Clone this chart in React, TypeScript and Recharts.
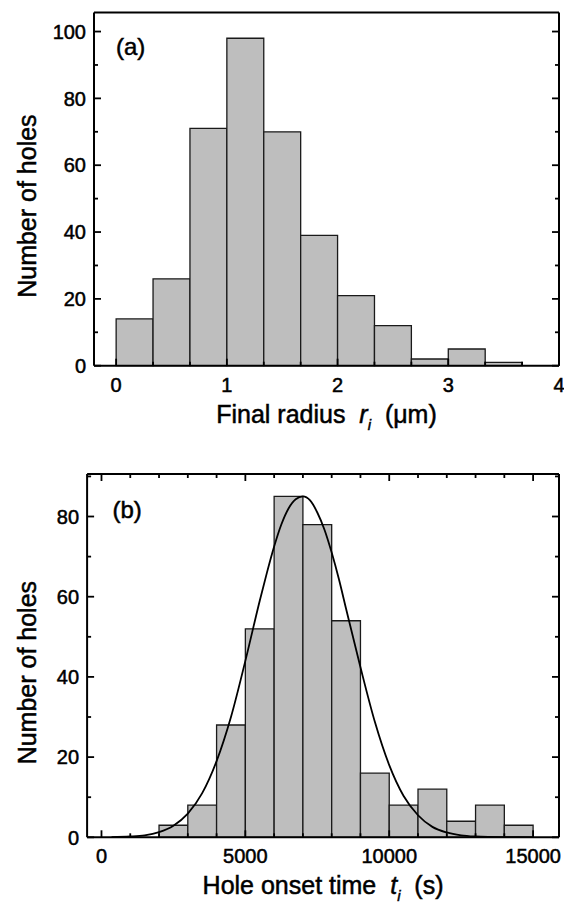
import { ComposedChart, XAxis, YAxis, Line, ReferenceArea, Label } from "recharts";

const FONT = '"Liberation Sans", Arial, Helvetica, sans-serif';
const BAR_FILL = "#bebebe";
// the scanned figure has heavier glyphs than Liberation Sans regular
const TEXT_STROKE = 0.5;

// (a) final radius histogram, bins of 1/3 um starting at 0
const radiusBinWidth = 1 / 3;
const radiusCounts = [14, 26, 71, 98, 70, 39, 21, 12, 2, 5, 1];
const radiusMajorTicks = [0, 1, 2, 3, 4];
const radiusTicks = Array.from({ length: 13 }, (_, i) => i / 3);
const countTicksA = [0, 10, 20, 30, 40, 50, 60, 70, 80, 90, 100];
const countMajorA = [0, 20, 40, 60, 80, 100];

// (b) hole onset time histogram, bins of 1000 s
const onsetBinWidth = 1000;
const onsetBinStarts = [2000, 3000, 4000, 5000, 6000, 7000, 8000, 9000, 10000, 11000, 12000, 13000, 14000];
const onsetCounts = [3, 8, 28, 52, 85, 78, 54, 16, 8, 12, 4, 8, 3];
const onsetMajorTicks = [0, 5000, 10000, 15000];
const onsetTicks = Array.from({ length: 16 }, (_, i) => i * 1000);
const countTicksB = [0, 10, 20, 30, 40, 50, 60, 70, 80, 90];
const countMajorB = [0, 20, 40, 60, 80];

// gaussian fit curve
const fitTimes = [350, 1000, 1500, 2000, 2500, 3000, 3500, 4000, 4500, 5000, 5500, 5750, 6000, 6250, 6500, 6750, 7000, 7250, 7500, 7750, 8000, 8250, 8500, 9000, 9500, 10000, 10500, 11000, 11500, 12000, 12500, 13000, 13500, 14000, 15000];
const fitCounts = [0.05, 0.2, 0.5, 1.3, 2.9, 5.9, 11, 19, 30, 44, 59, 66, 72.5, 78, 82, 84.3, 85, 84, 81, 76.7, 71, 64.4, 57, 42.4, 28.8, 18, 10.3, 5.5, 2.6, 1.2, 0.5, 0.2, 0.08, 0.03, 0];

const fitData = fitTimes.map((t, i) => ({ t, n: fitCounts[i] }));

const isMajor = (v: number, majors: number[]) => majors.some((m) => Math.abs(m - v) < 1e-6);

const tickFor = (side: string, majors: number[], labels: boolean) => (props: any) => {
  const { x, y, payload } = props;
  const v = payload.value;
  const big = isMajor(v, majors);
  const len = big ? 7 : 4;
  let mark;
  let text = null;
  if (side === "bottom") {
    mark = <line x1={x} y1={y} x2={x} y2={y - len} />;
    if (labels && big) text = <text x={x} y={y + 26} textAnchor="middle">{v}</text>;
  } else if (side === "top") {
    mark = <line x1={x} y1={y} x2={x} y2={y + len} />;
  } else if (side === "left") {
    mark = <line x1={x} y1={y} x2={x + len} y2={y} />;
    if (labels && big) text = <text x={x - 8} y={y} dy="0.36em" textAnchor="end">{v}</text>;
  } else {
    mark = <line x1={x} y1={y} x2={x - len} y2={y} />;
  }
  return (
    <g>
      <g stroke="#000" strokeWidth={1.8}>{mark}</g>
      {text && (
        <g fill="#000" stroke="#000" strokeWidth={TEXT_STROKE} fontSize={20} fontFamily={FONT}>
          {text}
        </g>
      )}
    </g>
  );
};

const yTitle = (p: any) => {
  const vb = p.viewBox;
  const bx = vb.x + 36;
  const cy = vb.y + vb.height / 2 + 17;
  return (
    <text x={bx} y={cy} transform={`rotate(-90, ${bx}, ${cy})`} textAnchor="middle" fontSize={25} fontFamily={FONT}
      fill="#000" stroke="#000" strokeWidth={TEXT_STROKE}>
      Number of holes
    </text>
  );
};

const xTitle = (main: string, sym: string, unit: string) => (p: any) => {
  const vb = p.viewBox;
  const cx = vb.x + vb.width / 2;
  const by = vb.y + 57;
  return (
    <text x={cx} y={by} textAnchor="middle" fontSize={25} fontFamily={FONT} fill="#000" stroke="#000" strokeWidth={TEXT_STROKE}>
      {main + "\u00a0\u00a0"}
      <tspan fontStyle="italic">{sym}</tspan>
      <tspan fontSize={15} dy={7} fontStyle="italic">i</tspan>
      <tspan dy={-7}>{"\u00a0\u00a0" + unit}</tspan>
    </text>
  );
};

const axisLine = { stroke: "#000", strokeWidth: 2 };

export default function App() {
  return (
    <div style={{ position: "absolute", left: 0, top: 0, width: 564, height: 903, background: "#fff" }}>
      <div style={{ position: "absolute", left: 0, top: 0 }}>
        <ComposedChart width={564} height={450} data={[]} margin={{ top: 0, right: 0, bottom: 0, left: 0 }}>
          <XAxis xAxisId="b" type="number" dataKey="t" domain={[-0.2, 4]} allowDataOverflow ticks={radiusTicks} interval={0}
            height={84.3} tickSize={0} tickMargin={0} axisLine={axisLine} tickLine={false} tick={tickFor("bottom", radiusMajorTicks, true)}>
            <Label content={xTitle("Final radius", "r", "(\u03bcm)")} />
          </XAxis>
          <XAxis xAxisId="t" orientation="top" type="number" domain={[-0.2, 4]} allowDataOverflow ticks={radiusTicks} interval={0}
            height={12.5} tickSize={0} tickMargin={0} axisLine={axisLine} tickLine={false} tick={tickFor("top", radiusMajorTicks, false)} />
          <YAxis yAxisId="l" type="number" domain={[0, 105.7]} allowDataOverflow ticks={countTicksA} interval={0}
            width={94} tickSize={0} tickMargin={0} axisLine={axisLine} tickLine={false} tick={tickFor("left", countMajorA, true)}>
            <Label content={yTitle} />
          </YAxis>
          <YAxis yAxisId="r" orientation="right" type="number" domain={[0, 105.7]} allowDataOverflow ticks={countTicksA} interval={0}
            width={5} tickSize={0} tickMargin={0} axisLine={axisLine} tickLine={false} tick={tickFor("right", countMajorA, false)} />
          {radiusCounts.map((c, i) => (
            <ReferenceArea key={i} xAxisId="b" yAxisId="l" x1={i * radiusBinWidth} x2={(i + 1) * radiusBinWidth} y1={0} y2={c}
              fill={BAR_FILL} fillOpacity={1} stroke="#1a1a1a" strokeWidth={1.3} />
          ))}
        </ComposedChart>
      </div>
      <div style={{ position: "absolute", left: 0, top: 450 }}>
        <ComposedChart width={564} height={453} data={fitData} margin={{ top: 0, right: 0, bottom: 0, left: 0 }}>
          <XAxis xAxisId="b" type="number" dataKey="t" domain={[-500, 15900]} allowDataOverflow ticks={onsetTicks} interval={0}
            height={65.7} tickSize={0} tickMargin={0} axisLine={axisLine} tickLine={false} tick={tickFor("bottom", onsetMajorTicks, true)}>
            <Label content={xTitle("Hole onset time", "t", "(s)")} />
          </XAxis>
          <XAxis xAxisId="t" orientation="top" type="number" dataKey="t" domain={[-500, 15900]} allowDataOverflow ticks={onsetTicks} interval={0}
            height={24} tickSize={0} tickMargin={0} axisLine={axisLine} tickLine={false} tick={tickFor("top", onsetMajorTicks, false)} />
          <YAxis yAxisId="l" type="number" domain={[0, 90.6]} allowDataOverflow ticks={countTicksB} interval={0}
            width={87.1} tickSize={0} tickMargin={0} axisLine={axisLine} tickLine={false} tick={tickFor("left", countMajorB, true)}>
            <Label content={yTitle} />
          </YAxis>
          <YAxis yAxisId="r" orientation="right" type="number" domain={[0, 90.6]} allowDataOverflow ticks={countTicksB} interval={0}
            width={5} tickSize={0} tickMargin={0} axisLine={axisLine} tickLine={false} tick={tickFor("right", countMajorB, false)} />
          {onsetCounts.map((c, i) => (
            <ReferenceArea key={i} xAxisId="b" yAxisId="l" x1={onsetBinStarts[i]} x2={onsetBinStarts[i] + onsetBinWidth} y1={0} y2={c}
              fill={BAR_FILL} fillOpacity={1} stroke="#1a1a1a" strokeWidth={1.3} />
          ))}
          <Line xAxisId="b" yAxisId="l" dataKey="n" type="monotone" dot={false} stroke="#000" strokeWidth={1.8} isAnimationActive={false} />
        </ComposedChart>
      </div>
      <svg width={564} height={903} style={{ position: "absolute", left: 0, top: 0, pointerEvents: "none" }}>
        <g fill="#000" stroke="#000" strokeWidth={TEXT_STROKE} fontSize={24} fontFamily={FONT}>
          <text x={116} y={55}>(a)</text>
          <text x={112.5} y={517.5}>(b)</text>
        </g>
      </svg>
    </div>
  );
}
